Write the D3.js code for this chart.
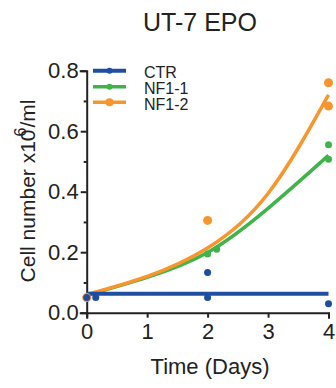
<!DOCTYPE html>
<html>
<head>
<meta charset="utf-8">
<script src="https://cdn.jsdelivr.net/npm/d3@7"></script>
<style>
  body { margin: 0; background: #fff; }
  text { font-family: "Liberation Sans", Arial, sans-serif; fill: #222; }
</style>
</head>
<body>
<div id="chart"></div>
<script>

// series names and colours
var seriesNames = ["CTR", "NF1-1", "NF1-2"];
var seriesColors = ["#1f4ea0", "#40b44a", "#f8952d"];

// measured points (day, cells x10^6/ml)
var ctrPoints = [[0, 0.05], [0.15, 0.05], [2, 0.133], [2, 0.05], [4, 0.03]];
var nf11Points = [[0, 0.05], [2, 0.194], [2.15, 0.21], [4, 0.555], [4, 0.507]];
var nf12Points = [[0, 0.05], [2, 0.305], [4, 0.76], [4, 0.683]];

// fitted curves
var ctrFit = [[0, 0.063], [4, 0.063]];
var nf11Fit = [[0, 0.058], [1, 0.117], [2, 0.199], [3, 0.345], [4, 0.52]];
var nf12Fit = [[0, 0.06], [1, 0.12], [2, 0.214], [3, 0.394], [4, 0.72]];

var xTicks = [0, 1, 2, 3, 4];
var yTicks = [0, 0.2, 0.4, 0.6, 0.8];
var yMinor = [0.1, 0.3, 0.5, 0.7];

// set the dimensions and margins of the graph
var margin = {top: 70.7, right: 7.5, bottom: 75, left: 86.7},
    width = 336 - margin.left - margin.right,
    height = 388 - margin.top - margin.bottom;

var svg = d3.select("#chart")
  .append("svg")
    .attr("width", 336)
    .attr("height", 388);

svg.append("text")
  .attr("x", 200)
  .attr("y", 31)
  .attr("text-anchor", "middle")
  .style("font-size", "25px")
  .text("UT-7 EPO");

var g = svg.append("g")
  .attr("transform", "translate(" + margin.left + "," + margin.top + ")");

var x = d3.scaleLinear().domain([0, 4]).range([0, width]);
var y = d3.scaleLinear().domain([0, 0.8]).range([height - 0.3, 0]);

// X axis
var xAxis = g.append("g")
  .attr("transform", "translate(0," + y(0) + ")")
  .call(d3.axisBottom(x).tickValues(xTicks).tickFormat(d3.format("d")).tickSize(5).tickPadding(4));

// Y axis
var yAxis = g.append("g")
  .call(d3.axisLeft(y).tickValues(yTicks).tickFormat(d3.format(".1f")).tickSize(6).tickPadding(2));

g.append("g")
  .call(d3.axisLeft(y).tickValues(yMinor).tickFormat("").tickSize(3))
  .select(".domain").remove();

g.selectAll(".domain, .tick line")
  .attr("stroke", "#222")
  .attr("stroke-width", 2);
g.selectAll(".domain").attr("stroke-linecap", "square");

g.selectAll(".tick text")
  .style("font-size", "22px")
  .attr("fill", "#222");
xAxis.selectAll(".tick text").attr("dy", "0.78em");

// axis titles
svg.append("text")
  .attr("x", 210)
  .attr("y", 374)
  .attr("text-anchor", "middle")
  .style("font-size", "22px")
  .text("Time (Days)");

var ylab = svg.append("text")
  .attr("transform", "translate(35,191) rotate(-90)")
  .attr("text-anchor", "middle")
  .style("font-size", "21px");
ylab.append("tspan").text("Cell number x10");
ylab.append("tspan").attr("dx", -7).attr("dy", -9).style("font-size", "16px").text("6");
ylab.append("tspan").attr("dy", 9).text("/ml");

// curves
var line = d3.line()
  .x(function(d) { return x(d[0]); })
  .y(function(d) { return y(d[1]); })
  .curve(d3.curveNatural);

var fits = [ctrFit, nf11Fit, nf12Fit];
var points = [ctrPoints, nf11Points, nf12Points];
var radii = [3.5, 3.5, 4.5];
var widths = [4, 3.5, 3.5];

[1, 2, 0].forEach(function(i) {
  g.append("path")
    .datum(fits[i])
    .attr("fill", "none")
    .attr("stroke", seriesColors[i])
    .attr("stroke-width", widths[i])
    .attr("d", line);
});

[1, 2, 0].forEach(function(i) {
  g.selectAll(".dot" + i)
    .data(points[i])
    .enter()
    .append("circle")
      .attr("cx", function(d) { return x(d[0]); })
      .attr("cy", function(d) { return y(d[1]); })
      .attr("r", radii[i])
      .attr("fill", seriesColors[i]);
});

// legend
var legend = svg.append("g");
var legendY = [70.7, 86.7, 102.3];
seriesNames.forEach(function(name, i) {
  legend.append("line")
    .attr("x1", 93).attr("x2", 126)
    .attr("y1", legendY[i]).attr("y2", legendY[i])
    .attr("stroke", seriesColors[i])
    .attr("stroke-width", widths[i]);
  legend.append("circle")
    .attr("cx", 109.5).attr("cy", legendY[i])
    .attr("r", radii[i] - 0.5)
    .attr("fill", seriesColors[i]);
  legend.append("text")
    .attr("x", 144)
    .attr("y", legendY[i] + 7.5)
    .style("font-size", "16px")
    .text(name);
});

</script>
</body>
</html>
